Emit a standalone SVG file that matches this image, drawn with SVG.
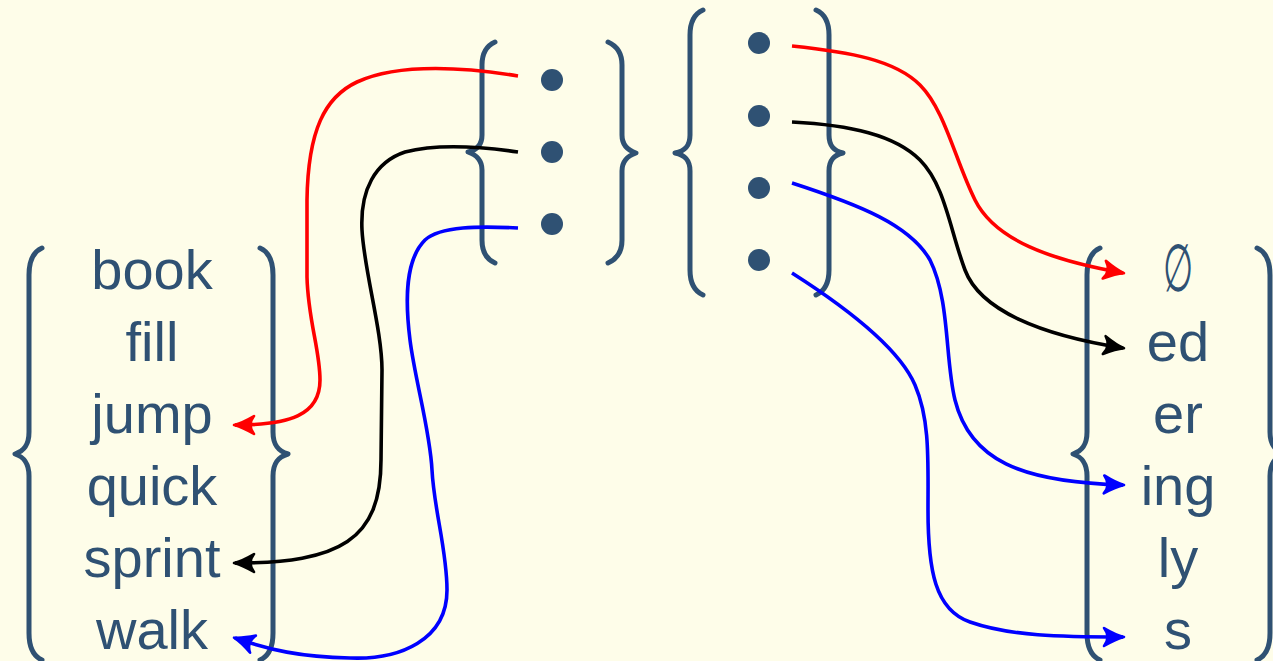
<svg xmlns="http://www.w3.org/2000/svg" width="1273" height="661" viewBox="0 0 1273 661">
<style>
.bg{fill:#FEFDE9}
.br{fill:none;stroke:#2F5173;stroke-width:5;stroke-linecap:round;stroke-linejoin:round}
.dot{fill:#2F5173}
.t{font-family:"Liberation Sans","DejaVu Sans",sans-serif;font-size:56px;fill:#2F5173;text-anchor:middle}
.c{fill:none;stroke-width:3.6}
.red{stroke:#FF0000}.blk{stroke:#000000}.blu{stroke:#0000FF}
</style>
<defs>
<marker id="ar" markerUnits="userSpaceOnUse" markerWidth="30" markerHeight="30" viewBox="-24 -15 30 30" refX="0" refY="0" orient="auto"><path d="M-19,-9 Q-7,-2 1,0 Q-7,2 -19,9 Q-12,0 -19,-9 Z" fill="#FF0000" stroke="#FF0000" stroke-width="2.6" stroke-linejoin="round"/></marker>
<marker id="ak" markerUnits="userSpaceOnUse" markerWidth="30" markerHeight="30" viewBox="-24 -15 30 30" refX="0" refY="0" orient="auto"><path d="M-19,-9 Q-7,-2 1,0 Q-7,2 -19,9 Q-12,0 -19,-9 Z" fill="#000000" stroke="#000000" stroke-width="2.6" stroke-linejoin="round"/></marker>
<marker id="ab" markerUnits="userSpaceOnUse" markerWidth="30" markerHeight="30" viewBox="-24 -15 30 30" refX="0" refY="0" orient="auto"><path d="M-19,-9 Q-7,-2 1,0 Q-7,2 -19,9 Q-12,0 -19,-9 Z" fill="#0000FF" stroke="#0000FF" stroke-width="2.6" stroke-linejoin="round"/></marker>
</defs>
<rect class="bg" x="0" y="0" width="1273" height="661"/>

<g id="stems">
<path class="br" d="M42,248 C33,252 29,262 29,275 L29,432 C29,445 24,451 15,454 C24,457 29,463 29,476 L29,633 C29,646 33,656 42,660"/>
<path class="br" d="M260,248 C269,252 273,262 273,275 L273,432 C273,445 278,451 288,454 C278,457 273,463 273,476 L273,633 C273,646 269,656 260,660"/>
<text class="t" x="152" y="289">book</text>
<text class="t" x="152" y="361">fill</text>
<text class="t" x="152" y="433">jump</text>
<text class="t" x="152" y="505">quick</text>
<text class="t" x="152" y="577">sprint</text>
<text class="t" x="152" y="649">walk</text>
</g>

<g id="set3">
<path class="br" d="M495,42 C486,46 482,54 482,65 L482,135 C482,145 477,150 468,152 C477,155 482,160 482,170 L482,240 C482,251 486,259 495,263"/>
<path class="br" d="M608,42 C617,46 622,54 622,65 L622,135 C622,145 627,150 636,153 C627,156 622,161 622,171 L622,240 C622,251 617,259 608,263"/>
<circle class="dot" cx="552" cy="80" r="11"/>
<circle class="dot" cx="552" cy="152" r="11"/>
<circle class="dot" cx="552" cy="224" r="11"/>
</g>

<g id="set4">
<path class="br" d="M703,10 C694,14 690,22 690,35 L690,135 C690,146 685,151 675,153 C685,155 690,160 690,171 L690,270 C690,283 694,291 703,295"/>
<path class="br" d="M816,10 C825,14 829,22 829,35 L829,135 C829,146 834,151 843,153 C834,155 829,160 829,171 L829,270 C829,283 825,291 816,295"/>
<circle class="dot" cx="759" cy="43" r="11"/>
<circle class="dot" cx="759" cy="116" r="11"/>
<circle class="dot" cx="759" cy="188" r="11"/>
<circle class="dot" cx="759" cy="260" r="11"/>
</g>

<g id="suffixes">
<path class="br" d="M1100,248 C1091,252 1087,262 1087,275 L1087,432 C1087,445 1082,451 1073,454 C1082,457 1087,463 1087,476 L1087,633 C1087,646 1091,656 1100,660"/>
<path class="br" d="M1257,248 C1266,252 1270,262 1270,275 L1270,432 C1270,445 1275,451 1285,454 C1275,457 1270,463 1270,476 L1270,633 C1270,646 1266,656 1257,660"/>
<text class="t" transform="translate(1178,291) scale(0.62,1.18)" x="0" y="0">∅</text>
<text class="t" x="1178" y="361">ed</text>
<text class="t" x="1178" y="433">er</text>
<text class="t" x="1178" y="505">ing</text>
<text class="t" x="1178" y="577">ly</text>
<text class="t" x="1178" y="649">s</text>
</g>

<g id="connectors">
<path class="c red" marker-end="url(#ar)" d="M518,76 C470,68 400,62 357,82 C325,97 308,130 307,200 L307,277 C308,320 320,350 320,380 C320,415 290,425 235,425"/>
<path class="c blk" marker-end="url(#ak)" d="M518,152 C490,148 440,143 405,152 C375,162 360,190 362,230 C364,270 382,330 382,370 L381,460 C381,540 340,563 235,563"/>
<path class="c blu" marker-end="url(#ab)" d="M518,228 C480,226 440,226 425,240 C405,260 405,300 410,340 C415,380 430,430 432,470 C434,510 447,550 447,590 C447,640 400,660 350,658 C300,657 270,650 235,638"/>
<path class="c red" marker-end="url(#ar)" d="M792,46 C850,52 895,60 920,85 C945,110 955,160 975,200 C995,240 1050,260 1123,273"/>
<path class="c blk" marker-end="url(#ak)" d="M792,122 C850,125 895,135 920,160 C945,185 950,230 965,270 C980,310 1040,335 1123,348"/>
<path class="c blu" marker-end="url(#ab)" d="M792,183 C860,205 910,225 930,260 C950,300 945,360 955,400 C970,460 1020,482 1123,485"/>
<path class="c blu" marker-end="url(#ab)" d="M792,273 C850,310 900,350 915,385 C930,420 928,460 928,510 C928,570 935,610 970,622 C1010,636 1060,637 1123,637"/>
</g>
</svg>
